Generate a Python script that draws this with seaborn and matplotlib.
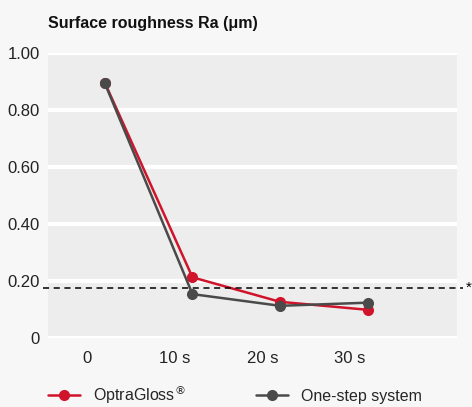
import pandas as pd
import seaborn as sns
import matplotlib.pyplot as plt

# chart data
times = [0, 10, 20, 30]
tick_labels = ["0", "10 s", "20 s", "30 s"]
optragloss = [0.895, 0.213, 0.127, 0.099]
one_step = [0.893, 0.154, 0.113, 0.124]
threshold = 0.175
series_names = ["OptraGloss$^{®}$", "One-step system"]

red = "#d0142c"
grey = "#4a4a4a"

sns.set_style("white")
plt.rcParams["font.family"] = ["Liberation Sans", "DejaVu Sans"]

# points sit a little right of the tick labels in the original
offset = 2.0
df = pd.DataFrame({
    "time": [t + offset for t in times] * 2,
    "Ra": optragloss + one_step,
    "series": [series_names[0]] * 4 + [series_names[1]] * 4,
})

fig = plt.figure(figsize=(4.72, 4.07), dpi=100, facecolor="#f7f7f7")
ax = fig.add_axes([0.1017, 0.1695, 0.8663, 0.7003])
ax.set_facecolor("#ededed")

sns.lineplot(data=df, x="time", y="Ra", hue="series",
             palette=[red, grey], marker="o", markersize=8,
             markeredgewidth=0, linewidth=1.8, ax=ax, legend=False, zorder=3)

ax.set_xlim(-4.5, 42.2)
ax.set_ylim(0, 1.0)
ax.set_xticks(times)
ax.set_xticklabels(tick_labels)
ax.set_yticks([0, 0.2, 0.4, 0.6, 0.8, 1.0])
ax.set_yticklabels(["0", "0.20", "0.40", "0.60", "0.80", "1.00"])
ax.tick_params(axis="both", length=0, labelsize=12, colors="#222222")
ax.tick_params(axis="x", pad=9)
ax.tick_params(axis="y", pad=6)
for s in ax.spines.values():
    s.set_visible(False)
ax.grid(axis="y", color="white", linewidth=3)
ax.set_axisbelow(True)
ax.set_xlabel("")
ax.set_ylabel("")

# dashed reference line
ax.axhline(threshold, xmin=-0.012, xmax=1.015, color="black",
           linestyle=(0, (4, 3)), linewidth=1.1, clip_on=False, zorder=4)
ax.text(1.022, threshold, "*", transform=ax.get_yaxis_transform(),
        va="center", ha="left", fontsize=11, color="black")

fig.text(0.1017, 0.942, "Surface roughness Ra (μm)", fontsize=11.5,
         fontweight="bold", ha="left", va="center", color="#111111")

# legend
handles = [plt.Line2D([], [], color=red, marker="o", markersize=8,
                      markeredgewidth=0, linewidth=1.8),
           plt.Line2D([], [], color=grey, marker="o", markersize=8,
                      markeredgewidth=0, linewidth=1.8)]
fig.legend(handles, series_names, loc="center left", ncol=2,
           bbox_to_anchor=(0.072, 0.03), frameon=False, fontsize=11.5,
           handlelength=2.0, columnspacing=4.4, handletextpad=0.8)

fig.savefig("out.png", dpi=100, facecolor=fig.get_facecolor())
